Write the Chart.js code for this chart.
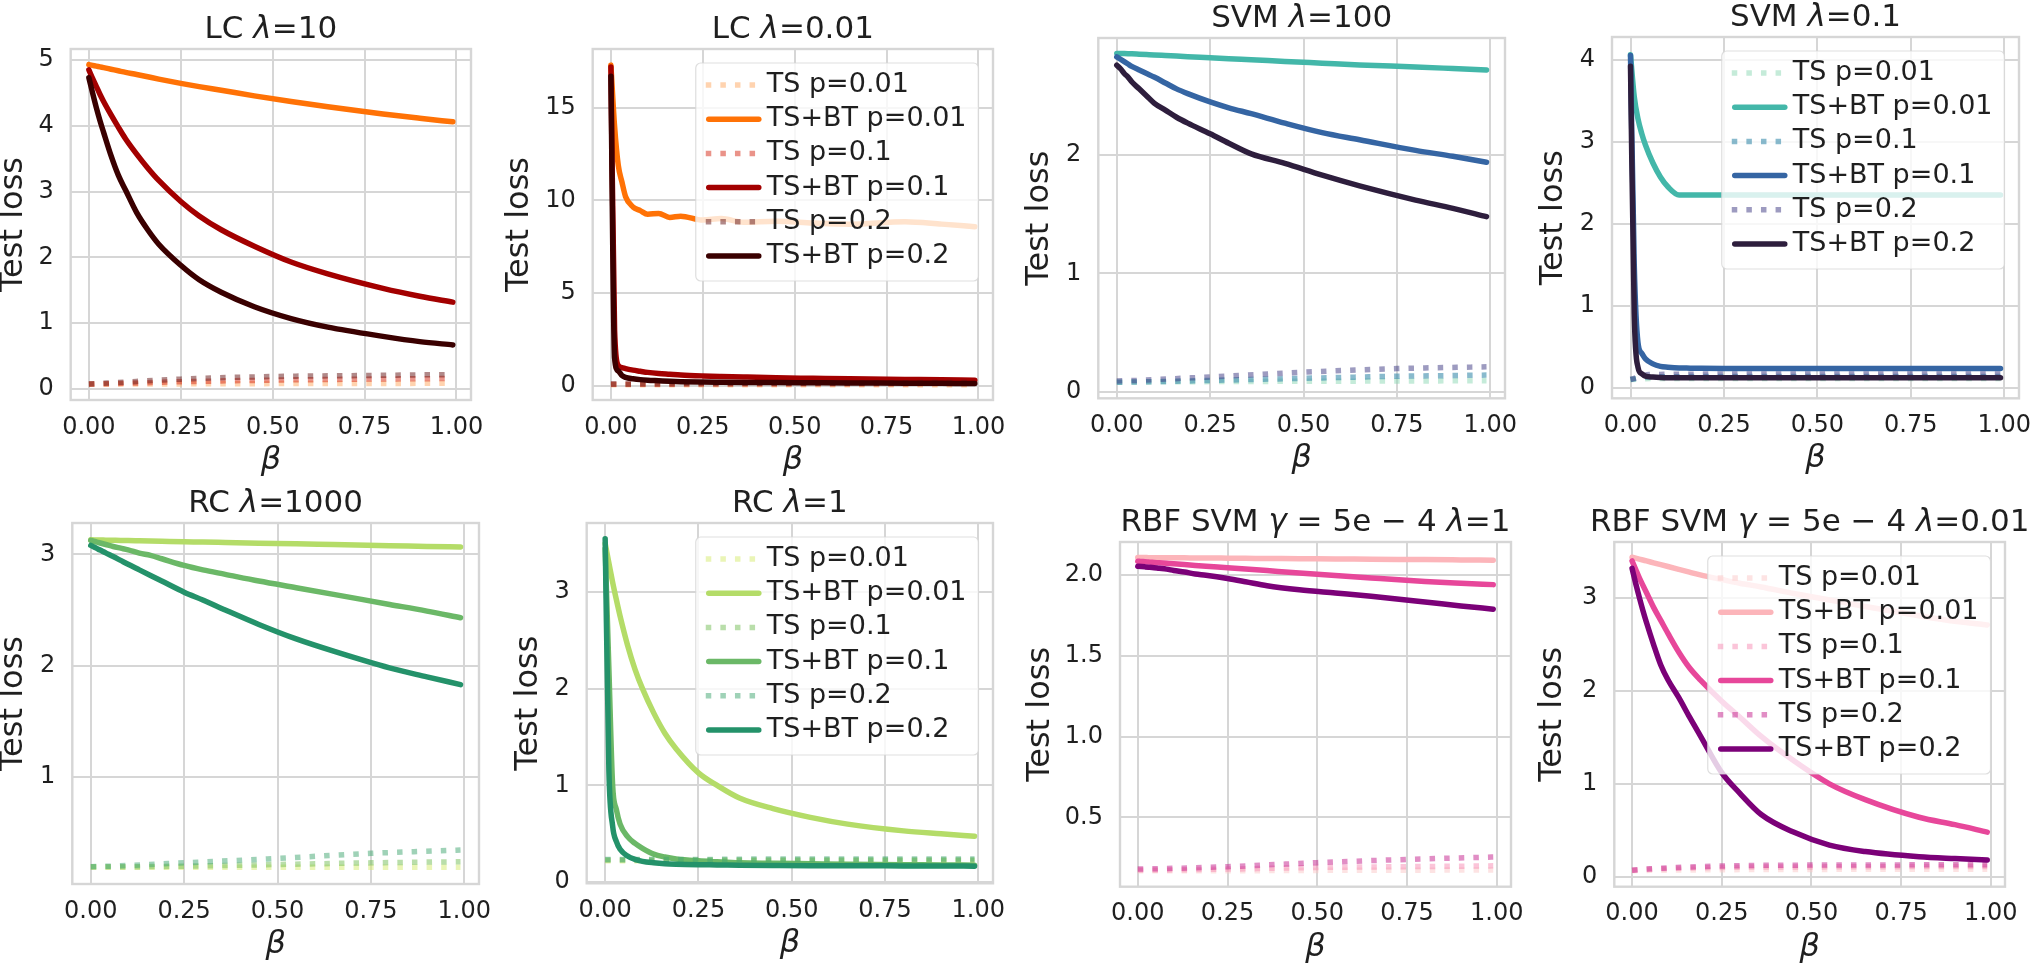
<!DOCTYPE html>
<html>
<head>
<meta charset="utf-8">
<script src="https://cdn.jsdelivr.net/npm/chart.js@4.4.1/dist/chart.umd.min.js"></script>
<style>
  html, body { margin: 0; padding: 0; background: #fff; width: 2032px; height: 966px; overflow: hidden; position: relative; }
  canvas { position: absolute; }
</style>
</head>
<body>
<script>
// beta values (dense near 0 where the curves drop)
const beta = [0, 0.01, 0.02, 0.03, 0.04, 0.06, 0.08, 0.1, 0.13, 0.16, 0.19, 0.25, 0.3, 0.36, 0.45, 0.55, 0.65, 0.8, 0.9, 0.99];
const betaTS = [0, 0.05, 0.25, 0.5, 0.75, 0.99];
const xTicks = [0, 0.25, 0.5, 0.75, 1];
const seriesLabels = ['TS p=0.01', 'TS+BT p=0.01', 'TS p=0.1', 'TS+BT p=0.1', 'TS p=0.2', 'TS+BT p=0.2'];
const titles = ['LC λ=10', 'LC λ=0.01', 'SVM λ=100', 'SVM λ=0.1', 'RC λ=1000', 'RC λ=1',
  'RBF SVM γ = 5e − 4 λ=1', 'RBF SVM γ = 5e − 4 λ=0.01'];

// TS+BT curves (p=0.01, p=0.1, p=0.2) on beta
const lc10BT = [
  [4.93, 4.918, 4.907, 4.895, 4.884, 4.86, 4.836, 4.812, 4.78, 4.745, 4.71, 4.645, 4.595, 4.54, 4.455, 4.37, 4.29, 4.18, 4.115, 4.06],
  [4.85, 4.72, 4.6, 4.48, 4.37, 4.17, 3.98, 3.8, 3.57, 3.36, 3.17, 2.85, 2.63, 2.42, 2.17, 1.93, 1.75, 1.53, 1.41, 1.32],
  [4.73, 4.5, 4.28, 4.08, 3.9, 3.55, 3.25, 3.02, 2.68, 2.42, 2.2, 1.88, 1.66, 1.47, 1.25, 1.07, 0.94, 0.8, 0.72, 0.67]
];
const lc001BT = [
  [17.3, 14.0, 11.9, 11.0, 10.2, 9.65, 9.45, 9.25, 9.3, 9.08, 9.15, 8.94, 9.02, 8.82, 8.88, 8.78, 8.72, 8.85, 8.72, 8.58],
  [17.2, 3.0, 1.1, 0.98, 0.92, 0.84, 0.78, 0.72, 0.66, 0.62, 0.58, 0.53, 0.5, 0.47, 0.43, 0.4, 0.37, 0.34, 0.32, 0.3],
  [16.7, 1.5, 0.8, 0.55, 0.45, 0.38, 0.33, 0.3, 0.27, 0.24, 0.22, 0.2, 0.19, 0.18, 0.17, 0.16, 0.15, 0.14, 0.13, 0.12]
];
const svm100BT = [
  [2.86, 2.859, 2.858, 2.857, 2.856, 2.853, 2.85, 2.847, 2.842, 2.837, 2.832, 2.823, 2.815, 2.806, 2.792, 2.777, 2.762, 2.745, 2.732, 2.72],
  [2.83, 2.81, 2.79, 2.77, 2.75, 2.72, 2.69, 2.66, 2.61, 2.56, 2.52, 2.45, 2.4, 2.35, 2.27, 2.19, 2.13, 2.04, 1.99, 1.94],
  [2.76, 2.73, 2.69, 2.66, 2.62, 2.56, 2.5, 2.44, 2.38, 2.32, 2.27, 2.18, 2.1, 2.01, 1.93, 1.83, 1.74, 1.62, 1.55, 1.48]
];
const svm01BT = [
  [4.06, 3.55, 3.28, 3.1, 2.96, 2.74, 2.57, 2.45, 2.35, 2.35, 2.35, 2.35, 2.35, 2.35, 2.35, 2.35, 2.35, 2.35, 2.35, 2.35],
  [4.05, 1.5, 0.55, 0.42, 0.35, 0.29, 0.26, 0.25, 0.24, 0.238, 0.236, 0.235, 0.235, 0.235, 0.235, 0.235, 0.235, 0.235, 0.235, 0.235],
  [3.92, 0.9, 0.25, 0.17, 0.14, 0.13, 0.125, 0.122, 0.12, 0.12, 0.12, 0.12, 0.12, 0.12, 0.12, 0.12, 0.12, 0.12, 0.12, 0.12]
];
const rc1000BT = [
  [3.13, 3.129, 3.129, 3.128, 3.127, 3.126, 3.125, 3.123, 3.121, 3.119, 3.117, 3.113, 3.11, 3.106, 3.1, 3.094, 3.087, 3.077, 3.071, 3.065],
  [3.125, 3.115, 3.106, 3.097, 3.088, 3.07, 3.055, 3.04, 3.01, 2.99, 2.96, 2.9, 2.86, 2.82, 2.76, 2.7, 2.64, 2.55, 2.49, 2.43],
  [3.08, 3.063, 3.046, 3.03, 3.013, 2.98, 2.945, 2.91, 2.86, 2.81, 2.76, 2.66, 2.59, 2.5, 2.37, 2.24, 2.13, 1.98, 1.9, 1.83]
];
const rc1BT = [
  [3.5, 3.3, 3.1, 2.92, 2.75, 2.45, 2.2, 2.0, 1.75, 1.54, 1.38, 1.13, 1.0, 0.87, 0.76, 0.67, 0.6, 0.53, 0.5, 0.475],
  [3.45, 2.2, 1.0, 0.75, 0.6, 0.47, 0.4, 0.35, 0.29, 0.26, 0.24, 0.22, 0.21, 0.2, 0.195, 0.19, 0.185, 0.18, 0.178, 0.175],
  [3.55, 1.15, 0.58, 0.42, 0.34, 0.27, 0.235, 0.215, 0.2, 0.19, 0.185, 0.18, 0.178, 0.175, 0.172, 0.17, 0.17, 0.168, 0.167, 0.165]
];
const rbf1BT = [
  [2.11, 2.11, 2.11, 2.109, 2.109, 2.109, 2.109, 2.108, 2.108, 2.107, 2.107, 2.106, 2.105, 2.104, 2.102, 2.101, 2.099, 2.097, 2.095, 2.093],
  [2.087, 2.085, 2.084, 2.082, 2.08, 2.077, 2.074, 2.071, 2.066, 2.061, 2.056, 2.047, 2.039, 2.029, 2.014, 1.998, 1.983, 1.962, 1.951, 1.942],
  [2.056, 2.054, 2.052, 2.05, 2.048, 2.043, 2.038, 2.03, 2.02, 2.008, 2.0, 1.98, 1.96, 1.935, 1.91, 1.89, 1.87, 1.835, 1.81, 1.79]
];
const rbf001BT = [
  [3.44, 3.43, 3.42, 3.41, 3.4, 3.38, 3.36, 3.34, 3.31, 3.28, 3.25, 3.2, 3.16, 3.12, 3.05, 2.98, 2.91, 2.81, 2.75, 2.71],
  [3.4, 3.31, 3.22, 3.14, 3.06, 2.9, 2.76, 2.62, 2.42, 2.25, 2.12, 1.89, 1.72, 1.51, 1.25, 1.0, 0.83, 0.64, 0.56, 0.48],
  [3.32, 3.16, 3.01, 2.87, 2.74, 2.5, 2.28, 2.12, 1.93, 1.72, 1.52, 1.12, 0.9, 0.67, 0.48, 0.34, 0.27, 0.215, 0.195, 0.18]
];

// TS curves (p=0.01, p=0.1, p=0.2) on betaTS
const lc10TS = [
  [0.072, 0.074, 0.078, 0.082, 0.085, 0.086],
  [0.076, 0.08, 0.11, 0.135, 0.15, 0.16],
  [0.076, 0.09, 0.15, 0.19, 0.205, 0.22]
];
const lc001TS = [
  [0.05, 0.05, 0.05, 0.05, 0.05, 0.05],
  [0.08, 0.08, 0.09, 0.1, 0.11, 0.12],
  [0.1, 0.1, 0.12, 0.14, 0.16, 0.18]
];
const svm100TS = [
  [0.08, 0.082, 0.085, 0.088, 0.09, 0.093],
  [0.08, 0.082, 0.095, 0.113, 0.13, 0.14],
  [0.09, 0.095, 0.125, 0.165, 0.195, 0.21]
];
const svm01TS = [
  [0.1, 0.11, 0.11, 0.11, 0.11, 0.11],
  [0.1, 0.13, 0.135, 0.135, 0.135, 0.135],
  [0.1, 0.16, 0.165, 0.165, 0.165, 0.165]
];
const rc1000TS = [
  [0.19, 0.19, 0.19, 0.19, 0.19, 0.19],
  [0.195, 0.195, 0.2, 0.215, 0.23, 0.24],
  [0.195, 0.2, 0.23, 0.27, 0.315, 0.345]
];
const rc1TS = [
  [0.22, 0.22, 0.22, 0.22, 0.22, 0.22],
  [0.23, 0.23, 0.23, 0.23, 0.23, 0.23],
  [0.235, 0.235, 0.235, 0.24, 0.24, 0.24]
];
const rbf1TS = [
  [0.17, 0.17, 0.17, 0.172, 0.173, 0.175],
  [0.175, 0.175, 0.18, 0.19, 0.195, 0.2],
  [0.18, 0.182, 0.195, 0.22, 0.24, 0.255]
];
const rbf001TS = [
  [0.065, 0.068, 0.075, 0.078, 0.08, 0.08],
  [0.07, 0.08, 0.1, 0.105, 0.108, 0.11],
  [0.07, 0.085, 0.115, 0.125, 0.127, 0.128]
];

const yTicks = [[0, 1, 2, 3, 4, 5], [0, 5, 10, 15], [0, 1, 2], [0, 1, 2, 3, 4],
  [1, 2, 3], [0, 1, 2, 3], [0.5, 1.0, 1.5, 2.0], [0, 1, 2, 3]];
const yDigits = [0, 0, 0, 0, 0, 0, 1, 0];

// colours per family: solid (TS+BT) and dotted (TS)
const lcColors = { bt: ['#ff7206', '#a30000', '#3a0000'], ts: ['rgba(255,168,96,0.5)', 'rgba(214,40,20,0.5)', 'rgba(100,20,20,0.5)'] };
const svmColors = { bt: ['#43b7a9', '#3565a3', '#2e1e3d'], ts: ['rgba(140,216,180,0.5)', 'rgba(58,140,172,0.6)', 'rgba(60,55,130,0.5)'] };
const rcColors = { bt: ['#b4dc68', '#6bb867', '#24926a'], ts: ['rgba(213,235,110,0.5)', 'rgba(115,190,85,0.5)', 'rgba(64,165,112,0.5)'] };
const rbfColors = { bt: ['#fcb5ba', '#e7479a', '#7b0178'], ts: ['rgba(251,200,200,0.5)', 'rgba(247,140,180,0.5)', 'rgba(196,30,140,0.5)'] };

// page layout: plot box [left, top, right, bottom] and y label centre
const boxes = [
  [70.7, 49, 471.3, 400], [592.7, 49, 993.3, 400], [1098.3, 37.7, 1505, 398.3], [1612, 37.3, 2019.3, 398.3],
  [72.3, 522.7, 479.3, 884], [586.7, 522.7, 992.7, 883.3], [1120, 541.7, 1510.7, 886.7], [1614.3, 542.3, 2005.3, 886.7]
];
const yLabelX = [13, 519, 1039, 1553, 13.3, 528, 1039.5, 1552];
const yRanges = [[-0.167, 5.167], [-0.77, 18.17], [-0.056, 2.99], [-0.13, 4.277],
  [0.04, 3.281], [-0.012, 3.713], [0.071, 2.206], [-0.108, 3.604]];

const panels = [
  { bt: lc10BT, ts: lc10TS, colors: lcColors, legend: false },
  { bt: lc001BT, ts: lc001TS, colors: lcColors, legend: true },
  { bt: svm100BT, ts: svm100TS, colors: svmColors, legend: false },
  { bt: svm01BT, ts: svm01TS, colors: svmColors, legend: true },
  { bt: rc1000BT, ts: rc1000TS, colors: rcColors, legend: false },
  { bt: rc1BT, ts: rc1TS, colors: rcColors, legend: true },
  { bt: rbf1BT, ts: rbf1TS, colors: rbfColors, legend: false },
  { bt: rbf001BT, ts: rbf001TS, colors: rbfColors, legend: true }
];

const FONT = '"DejaVu Sans", sans-serif';
const TEXT = '#1f1f1f';
const GRID = '#d6d6d6';
const LW = 5.5;
const DOTS = [5.5, 9.1];

// light grey frame on all four sides
const framePlugin = {
  id: 'frame',
  afterDatasetsDraw(chart) {
    const { ctx, chartArea: a } = chart;
    ctx.save();
    ctx.strokeStyle = GRID;
    ctx.lineWidth = 2.4;
    ctx.strokeRect(a.left, a.top, a.right - a.left, a.bottom - a.top);
    ctx.restore();
  }
};

// title with greek letters in italic, like mathtext
const titlePlugin = {
  id: 'panelTitle',
  afterDraw(chart, args, opts) {
    const { ctx, chartArea: a } = chart;
    const parts = opts.text.split(/([\u03b1-\u03c9])/).filter(s => s.length);
    const fontOf = s => (/[\u03b1-\u03c9]/.test(s) ? 'italic ' : '') + '31px ' + FONT;
    ctx.save();
    let total = 0;
    parts.forEach(s => { ctx.font = fontOf(s); total += ctx.measureText(s).width; });
    let x = (a.left + a.right) / 2 - total / 2;
    ctx.fillStyle = TEXT;
    ctx.textBaseline = 'alphabetic';
    ctx.textAlign = 'left';
    parts.forEach(s => {
      ctx.font = fontOf(s);
      ctx.fillText(s, x, a.top - 11);
      x += ctx.measureText(s).width;
    });
    ctx.restore();
  }
};

// matplotlib-style legend inside the upper right corner
const legendPlugin = {
  id: 'insideLegend',
  afterDatasetsDraw(chart, args, opts) {
    if (!opts.display) return;
    const { ctx, chartArea: a } = chart;
    const sets = chart.data.datasets;
    const rowH = 34.2;
    ctx.save();
    ctx.font = '27px ' + FONT;
    const textW = Math.max(...sets.map(d => ctx.measureText(d.label).width));
    const w = 10 + 56 + 5 + textW + 12;
    const h = 22 + rowH * (sets.length - 1) + 25;
    const right = a.right - 14.5, top = a.top + 14, left = right - w, r = 5;
    ctx.beginPath();
    ctx.moveTo(left + r, top);
    ctx.arcTo(right, top, right, top + h, r);
    ctx.arcTo(right, top + h, left, top + h, r);
    ctx.arcTo(left, top + h, left, top, r);
    ctx.arcTo(left, top, right, top, r);
    ctx.closePath();
    ctx.fillStyle = 'rgba(255,255,255,0.8)';
    ctx.fill();
    ctx.strokeStyle = 'rgba(214,214,214,0.8)';
    ctx.lineWidth = 1.2;
    ctx.stroke();
    sets.forEach((d, i) => {
      const y = top + 22 + i * rowH;
      const dotted = d.borderDash.length > 0;
      ctx.beginPath();
      ctx.setLineDash(d.borderDash);
      ctx.lineCap = d.borderCapStyle;
      ctx.lineWidth = d.borderWidth;
      ctx.strokeStyle = d.borderColor;
      ctx.moveTo(left + (dotted ? 10 : 13), y);
      ctx.lineTo(left + (dotted ? 66 : 63), y);
      ctx.stroke();
      ctx.setLineDash([]);
      ctx.fillStyle = TEXT;
      ctx.textBaseline = 'middle';
      ctx.textAlign = 'left';
      ctx.fillText(d.label, left + 71, y);
    });
    ctx.restore();
  }
};

function toPoints(xs, ys) {
  return xs.map((x, i) => ({ x: x, y: ys[i] }));
}

panels.forEach((p, i) => {
  const [bl, bt, br, bb] = boxes[i];
  const left = Math.round(yLabelX[i] - 20);
  const top = Math.round(bt - 60);
  const width = Math.round(br - left + 35);
  const height = Math.round(bb - top + 95);
  const yAxisW = bl - left;
  const xAxisH = height - (bb - top);

  const canvas = document.createElement('canvas');
  canvas.width = width;
  canvas.height = height;
  canvas.style.left = left + 'px';
  canvas.style.top = top + 'px';
  canvas.style.width = width + 'px';
  canvas.style.height = height + 'px';
  document.body.appendChild(canvas);

  const datasets = [];
  for (let k = 0; k < 3; k++) {
    datasets.push({
      label: seriesLabels[2 * k],
      data: toPoints(betaTS, p.ts[k]),
      borderColor: p.colors.ts[k],
      borderWidth: LW,
      borderDash: DOTS,
      borderCapStyle: 'butt',
      borderJoinStyle: 'round',
      pointRadius: 0,
      fill: false,
      cubicInterpolationMode: 'monotone',
      order: 6 - 2 * k
    });
    datasets.push({
      label: seriesLabels[2 * k + 1],
      data: toPoints(beta, p.bt[k]),
      borderColor: p.colors.bt[k],
      borderWidth: LW,
      borderDash: [],
      borderCapStyle: 'round',
      borderJoinStyle: 'round',
      pointRadius: 0,
      fill: false,
      cubicInterpolationMode: 'monotone',
      order: 5 - 2 * k
    });
  }

  new Chart(canvas, {
    type: 'line',
    data: { datasets },
    options: {
      responsive: false,
      animation: false,
      devicePixelRatio: 1,
      layout: { padding: { top: 60, right: 35, left: 0, bottom: 0 } },
      plugins: {
        legend: { display: false },
        tooltip: { enabled: false },
        panelTitle: { text: titles[i] },
        insideLegend: { display: p.legend }
      },
      scales: {
        x: {
          type: 'linear',
          min: -0.0495,
          max: 1.0395,
          afterBuildTicks: s => { s.ticks = xTicks.map(v => ({ value: v })); },
          afterFit: s => { s.height = xAxisH; },
          ticks: { autoSkip: false, maxRotation: 0, padding: 13, color: TEXT,
            font: { family: FONT, size: 24 }, callback: v => v.toFixed(2) },
          grid: { color: GRID, lineWidth: 2, drawTicks: false },
          border: { display: false },
          title: { display: true, text: 'β', color: TEXT,
            font: { family: FONT, size: 32, style: 'italic', lineHeight: 1 },
            padding: { top: 0, bottom: 18 } }
        },
        y: {
          type: 'linear',
          min: yRanges[i][0],
          max: yRanges[i][1],
          afterBuildTicks: s => { s.ticks = yTicks[i].map(v => ({ value: v })); },
          afterFit: s => { s.width = yAxisW; },
          ticks: { autoSkip: false, padding: 17, color: TEXT,
            font: { family: FONT, size: 24 }, callback: v => v.toFixed(yDigits[i]) },
          grid: { color: GRID, lineWidth: 2, drawTicks: false },
          border: { display: false },
          title: { display: true, text: 'Test loss', color: TEXT,
            font: { family: FONT, size: 32, lineHeight: 1 },
            padding: { top: 5, bottom: 0 } }
        }
      }
    },
    plugins: [framePlugin, legendPlugin, titlePlugin]
  });
});
</script>
</body>
</html>
